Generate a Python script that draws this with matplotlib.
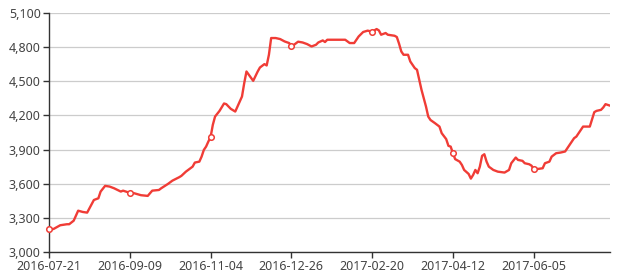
import matplotlib
matplotlib.use("Agg")
import matplotlib.pyplot as plt
from matplotlib.ticker import FuncFormatter

# category index of each reading (one category per trading day)
day_index = [0, 2, 5, 8, 9, 11, 13, 15, 17, 20, 22, 23, 25, 27, 29, 32, 33, 36, 38, 41,
             44, 46, 49, 50, 53, 55, 58, 59, 61, 62, 64, 65, 67, 68, 69, 70, 71, 72, 73, 74,
             76, 78, 79, 81, 83, 84, 86, 87, 88, 91, 93, 94, 96, 97, 98, 99, 101, 103, 105, 107,
             108, 109, 111, 113, 115, 117, 119, 120, 122, 123, 124, 132, 134, 136, 138, 140, 142, 144, 146, 147,
             148, 150, 151, 154, 155, 156, 157, 158, 160, 161, 163, 164, 165, 166, 167, 168, 169, 170, 172, 174,
             175, 177, 178, 179, 180, 181, 183, 184, 185, 187, 188, 189, 190, 191, 192, 193, 194, 195, 196, 197,
             198, 200, 203, 205, 206, 208, 209, 211, 212, 214, 215, 216, 218, 220, 221, 223, 224, 226, 228, 230,
             232, 234, 235, 238, 241, 243, 244, 246, 247, 248, 250]
price = [3200, 3202, 3235, 3244, 3244, 3275, 3363, 3352, 3346, 3457, 3472, 3531, 3581, 3575, 3560, 3531, 3539, 3520, 3516, 3499,
         3493, 3539, 3545, 3560, 3598, 3627, 3657, 3669, 3706, 3721, 3750, 3786, 3794, 3838, 3897, 3926, 3970, 4009, 4117, 4190,
         4240, 4305, 4299, 4258, 4234, 4278, 4366, 4484, 4586, 4504, 4586, 4621, 4651, 4639, 4733, 4880, 4880, 4871, 4850, 4836,
         4812, 4818, 4848, 4841, 4827, 4806, 4821, 4841, 4859, 4845, 4865, 4865, 4836, 4836, 4894, 4933, 4945, 4936, 4959, 4947,
         4909, 4924, 4909, 4900, 4889, 4830, 4762, 4733, 4733, 4674, 4616, 4601, 4513, 4425, 4352, 4278, 4190, 4160, 4132, 4102,
         4044, 3992, 3933, 3926, 3868, 3816, 3794, 3765, 3721, 3686, 3645, 3677, 3721, 3692, 3750, 3845, 3859, 3794, 3750, 3736,
         3721, 3706, 3698, 3721, 3780, 3830, 3809, 3801, 3780, 3771, 3759, 3730, 3730, 3736, 3780, 3794, 3838, 3868, 3874, 3883,
         3941, 4000, 4014, 4102, 4102, 4229, 4240, 4249, 4270, 4299, 4286]

tick_index = [0, 36, 72, 108, 144, 180, 216]
tick_labels = ["2016-07-21", "2016-09-09", "2016-11-04", "2016-12-26",
               "2017-02-20", "2017-04-12", "2017-06-05"]
y_ticks = [3000, 3300, 3600, 3900, 4200, 4500, 4800, 5100]

plt.rcParams['font.family'] = ['Noto Sans', 'DejaVu Sans']

fig = plt.figure(figsize=(6.17, 2.78), dpi=100)
ax = fig.add_axes([49 / 617, 26 / 278, (610 - 49) / 617, (265 - 26) / 278])

line_color = '#f03c36'
ax.plot(day_index, price, color=line_color, lw=1.7, solid_joinstyle='round', zorder=3)
mk_x = [d for d in day_index if d in tick_index]
mk_y = [p for d, p in zip(day_index, price) if d in tick_index]
ax.plot(mk_x, mk_y, ls='none', marker='o', ms=4, mfc='white', mec=line_color, mew=1.1,
        zorder=4, clip_on=False)

ax.set_xlim(0, 250)
ax.set_ylim(3000, 5100)
ax.set_yticks(y_ticks)
ax.yaxis.set_major_formatter(FuncFormatter(lambda v, p: f"{int(v):,}"))
ax.set_xticks(tick_index)
ax.set_xticklabels(tick_labels)

ax.grid(axis='y', color='#cccccc', lw=0.9)
ax.set_axisbelow(True)
for s in ['top', 'right']:
    ax.spines[s].set_visible(False)
for s in ['left', 'bottom']:
    ax.spines[s].set_color('#333333')
    ax.spines[s].set_linewidth(1.0)
ax.tick_params(axis='both', colors='#333333', labelcolor='#444444', labelsize=9,
               length=4, width=1, direction='out', pad=2)

fig.savefig("out.png", dpi=100)
